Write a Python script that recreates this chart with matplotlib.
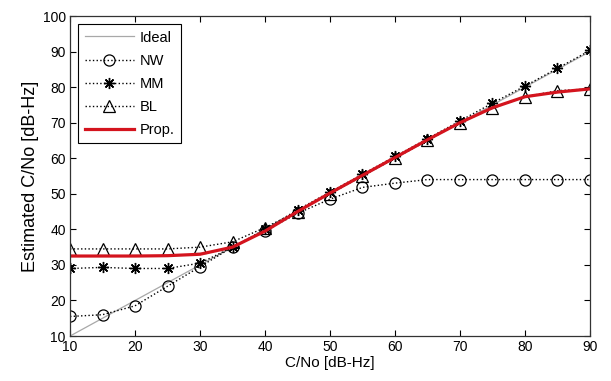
import matplotlib
matplotlib.use("Agg")
import matplotlib.pyplot as plt
import numpy as np

plt.rcParams['font.family'] = ['Liberation Sans', 'DejaVu Sans']

cn0 = [10, 15, 20, 25, 30, 35, 40, 45, 50, 55, 60, 65, 70, 75, 80, 85, 90]
ideal = [10, 15, 20, 25, 30, 35, 40, 45, 50, 55, 60, 65, 70, 75, 80, 85, 90]
nw = [15.5, 16, 18.5, 24, 29.5, 35, 39.5, 44.5, 48.5, 51.8, 53, 54, 54, 54, 54, 54, 54]
mm = [29, 29.3, 29, 29, 30.5, 35, 40, 45.5, 50.5, 55.5, 60.5, 65.5, 70.5, 75.5, 80.3, 85.3, 90.3]
bl = [34.5, 34.5, 34.5, 34.5, 35, 36.5, 40.5, 45, 50, 55, 60, 65, 70, 74, 77.3, 79, 79.5]
prop = [32.5, 32.5, 32.5, 32.6, 33, 35, 39.5, 45, 50.2, 55.2, 60.2, 65.2, 70, 74.2, 77.3, 78.6, 79.5]

fig = plt.figure(figsize=(6.11, 3.81), dpi=100)
ax = fig.add_axes([0.1146, 0.118, 0.851, 0.840])

ax.plot(cn0, ideal, color='#a8a8a8', lw=0.9, label='Ideal')
ax.plot(cn0, nw, color='black', ls=':', lw=1.0, marker='o', ms=8,
        mfc='none', mec='black', mew=0.9, label='NW')
ax.plot(cn0, mm, color='black', ls=':', lw=1.0, marker=(8, 2, 0), ms=8,
        mfc='black', mec='black', mew=1.0, label='MM')
ax.plot(cn0, bl, color='black', ls=':', lw=1.0, marker='^', ms=8.5,
        mfc='none', mec='black', mew=0.9, label='BL')
ax.plot(cn0, prop, color='#d4141e', lw=2.3, label='Prop.')

ax.set_xlim(10, 90)
ax.set_ylim(10, 100)
ax.set_xticks(np.arange(10, 91, 10))
ax.set_yticks(np.arange(10, 101, 10))
ax.tick_params(direction='in', length=4, width=0.8, top=True, right=True,
               labelsize=10, pad=3)
for s in ax.spines.values():
    s.set_linewidth(0.9)
    s.set_color('#333333')

ax.set_xlabel('C/No [dB-Hz]', fontsize=11, labelpad=1)
ax.set_ylabel('Estimated C/No [dB-Hz]', fontsize=13, labelpad=3)

leg = ax.legend(loc='upper left', fontsize=10.5, handlelength=3.4,
                handletextpad=0.35, labelspacing=0.62, borderpad=0.45,
                borderaxespad=0.55, fancybox=False, framealpha=1,
                edgecolor='black')
leg.get_frame().set_linewidth(0.8)

fig.savefig('out.png', dpi=100)
